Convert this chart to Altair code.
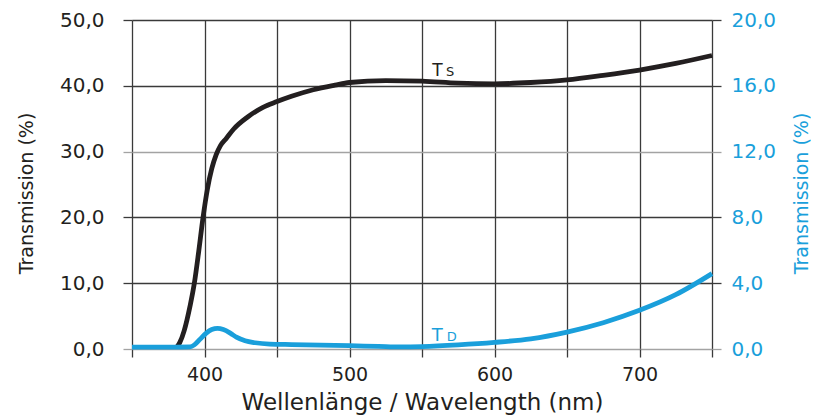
import altair as alt
import pandas as pd

# --- data ---
ts_wl = [381, 383, 386, 390, 393, 396, 399, 402, 405, 408, 411, 415, 420, 430, 440,
         450, 460, 475, 490, 500, 525, 550, 575, 600, 625, 650, 675, 700, 725, 750]
ts_val = [0.3, 1.0, 2.8, 6.5, 10.0, 14.8, 20.0, 24.3, 27.4, 29.5, 30.9, 32.0, 33.4, 35.3, 36.7,
          37.6, 38.4, 39.4, 40.1, 40.5, 40.8, 40.7, 40.4, 40.3, 40.5, 40.9, 41.6, 42.4, 43.4, 44.6]

td_wl = [350, 380, 390, 393, 397, 401, 405, 409, 413, 418, 422, 428, 435, 445, 460,
         480, 500, 520, 535, 550, 575, 600, 625, 650, 675, 700, 725, 750]
td_val = [0.12, 0.12, 0.13, 0.25, 0.6, 0.95, 1.18, 1.25, 1.18, 0.95, 0.72, 0.5, 0.38, 0.3, 0.27,
          0.24, 0.2, 0.16, 0.13, 0.15, 0.25, 0.4, 0.62, 1.03, 1.6, 2.35, 3.3, 4.58]

x_ticks = [350, 400, 450, 500, 550, 600, 650, 700, 750]
left_ticks = [0, 10, 20, 30, 40, 50]
right_ticks = [0, 4, 8, 12, 16, 20]

ts_label = pd.DataFrame({"wl": [557, 566.5], "v": [41.5, 41.5], "t": ["T", "S"]})
td_label = pd.DataFrame({"wl": [556.7, 567], "v": [0.5, 0.5], "t": ["T", "D"]})

BLACK = "#231f20"
BLUE = "#1a9fdb"
GRID = "#3a3a3a"
LIGHT = "#a3a3a3"
FONT = "DejaVu Sans"

ts_df = pd.DataFrame({"wl": ts_wl, "v": ts_val})
td_df = pd.DataFrame({"wl": td_wl, "v": td_val})

xscale = alt.Scale(domain=[350, 750], nice=False, zero=False)
comma_fmt = "replace(format(datum.value, '.1f'), '.', ',')"

x_axis = alt.Axis(
    values=x_ticks,
    labelExpr="(datum.value % 100 == 0 && datum.value > 350 && datum.value < 750) ? format(datum.value, 'd') : ''",
    grid=True, gridColor=GRID, gridWidth=1.3,
    ticks=True, tickSize=8, tickColor=GRID, tickWidth=1.3,
    domain=False,
    labelFont=FONT, labelFontSize=19, labelColor=BLACK, labelPadding=8,
    title="Wellenlänge / Wavelength (nm)", titleFont=FONT, titleFontSize=23,
    titleFontWeight="normal", titleColor=BLACK,
    titleX=290, titleY=60, titleAlign="center", titleBaseline="alphabetic",
)

left_axis = alt.Axis(
    orient="left", values=left_ticks, labelExpr=comma_fmt,
    grid=True,
    gridColor={"condition": {"test": "datum.value === 0 || datum.value === 30", "value": LIGHT}, "value": GRID},
    gridWidth=1.3,
    tickSize=9, tickWidth=1.3,
    tickColor={"condition": {"test": "datum.value === 0 || datum.value === 30", "value": LIGHT}, "value": GRID},
    domain=False,
    labelFont=FONT, labelFontSize=20, labelColor=BLACK, labelPadding=19,
    title="Transmission (%)", titleFont=FONT, titleFontSize=19, titleFontWeight="normal",
    titleColor=BLACK, titleX=-106, titleY=173, titleAngle=270,
    titleAlign="center", titleBaseline="middle",
)

right_axis = alt.Axis(
    orient="right", values=right_ticks, labelExpr=comma_fmt,
    grid=False,
    tickSize=9, tickWidth=1.3,
    tickColor={"condition": {"test": "datum.value === 0 || datum.value === 12", "value": LIGHT}, "value": GRID},
    domain=False,
    labelFont=FONT, labelFontSize=20, labelColor=BLUE, labelPadding=10,
    title="Transmission (%)", titleFont=FONT, titleFontSize=19, titleFontWeight="normal",
    titleColor=BLUE, titleX=89, titleY=173, titleAngle=270,
    titleAlign="center", titleBaseline="middle",
)

lscale = alt.Scale(domain=[0, 50], nice=False, zero=True)
rscale = alt.Scale(domain=[0, 20], nice=False, zero=True)

ts_line = alt.Chart(ts_df).mark_line(color=BLACK, strokeWidth=4.8, interpolate="monotone").encode(
    x=alt.X("wl:Q", scale=xscale, axis=x_axis),
    y=alt.Y("v:Q", scale=lscale, axis=left_axis),
)
ts_text = alt.Chart(ts_label).mark_text(
    font=FONT, color=BLACK, align="left", baseline="alphabetic"
).encode(
    x=alt.X("wl:Q", scale=xscale, axis=x_axis),
    y=alt.Y("v:Q", scale=lscale, axis=left_axis),
    text="t:N",
    size=alt.condition("datum.t == 'T'", alt.value(17), alt.value(13)),
)

td_line = alt.Chart(td_df).mark_line(color=BLUE, strokeWidth=4.8, interpolate="monotone").encode(
    x=alt.X("wl:Q", scale=xscale, axis=x_axis),
    y=alt.Y("v:Q", scale=rscale, axis=right_axis),
)
td_text = alt.Chart(td_label).mark_text(
    font=FONT, color=BLUE, align="left", baseline="alphabetic"
).encode(
    x=alt.X("wl:Q", scale=xscale, axis=x_axis),
    y=alt.Y("v:Q", scale=rscale, axis=right_axis),
    text="t:N",
    size=alt.condition("datum.t == 'T'", alt.value(18), alt.value(13)),
)

chart = alt.layer(
    alt.layer(ts_line, ts_text),
    alt.layer(td_line, td_text),
).resolve_scale(y="independent").properties(
    width=580, height=329,
    autosize=alt.AutoSizeParams(type="none"),
    padding={"left": 124, "top": 12, "right": 99, "bottom": 66},
    background="white",
).configure_view(stroke=None)

chart.save("out.html", embed_options={"renderer": "svg", "actions": False})
